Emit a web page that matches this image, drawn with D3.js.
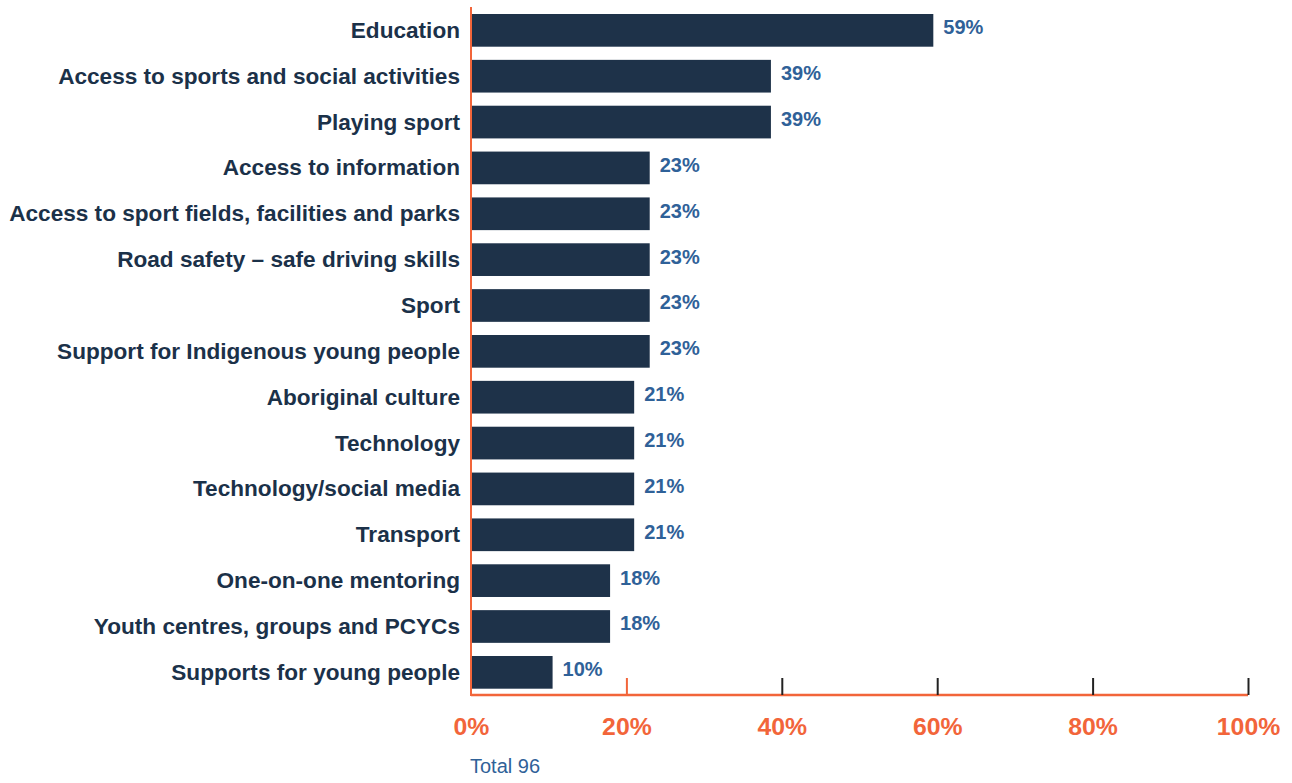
<!DOCTYPE html>
<html>
<head>
<meta charset="utf-8">
<script src="https://cdn.jsdelivr.net/npm/d3@7"></script>
<style>
  html, body { margin: 0; padding: 0; background: #ffffff; }
  svg { display: block; }
  text { font-family: "Liberation Sans", Arial, Helvetica, sans-serif; }
</style>
</head>
<body>
<svg id="chart" width="1292" height="783"></svg>
<script>
const categories = [
  "Education",
  "Access to sports and social activities",
  "Playing sport",
  "Access to information",
  "Access to sport fields, facilities and parks",
  "Road safety \u2013 safe driving skills",
  "Sport",
  "Support for Indigenous young people",
  "Aboriginal culture",
  "Technology",
  "Technology/social media",
  "Transport",
  "One-on-one mentoring",
  "Youth centres, groups and PCYCs",
  "Supports for young people"
];
const values = [59.5, 38.6, 38.6, 23, 23, 23, 23, 23, 21, 21, 21, 21, 17.9, 17.9, 10.5];
const valueLabels = ["59%", "39%", "39%", "23%", "23%", "23%", "23%", "23%", "21%", "21%", "21%", "21%", "18%", "18%", "10%"];
const tickValues = [0, 20, 40, 60, 80, 100];
const tickLabels = ["0%", "20%", "40%", "60%", "80%", "100%"];
const footnote = "Total 96";

const navy = "#1e3249";
const labelNavy = "#1b3149";
const blue = "#2f6198";
const orange = "#f2653a";

const svg = d3.select("#chart");

const x = d3.scaleLinear().domain([0, 100]).range([471, 1248]);
const y = d3.scaleBand().domain(categories).range([14, 688.7]).paddingInner(0.287).paddingOuter(0);
const axisY = 695;

// bars
svg.append("g").selectAll("rect")
  .data(categories)
  .join("rect")
  .attr("x", x(0))
  .attr("y", d => y(d))
  .attr("width", (d, i) => x(values[i]) - x(0))
  .attr("height", y.bandwidth())
  .attr("fill", navy);

// category labels
svg.append("g").selectAll("text")
  .data(categories)
  .join("text")
  .attr("x", 460)
  .attr("y", d => y(d) + y.bandwidth() / 2)
  .attr("dy", "0.33em")
  .attr("text-anchor", "end")
  .attr("font-size", 22.6)
  .attr("font-weight", "bold")
  .attr("fill", labelNavy)
  .text(d => d);

// value labels
svg.append("g").selectAll("text")
  .data(categories)
  .join("text")
  .attr("x", (d, i) => x(values[i]) + 10)
  .attr("y", d => y(d) + y.bandwidth() / 2)
  .attr("dy", "0.2em")
  .attr("font-size", 20)
  .attr("font-weight", "bold")
  .attr("fill", blue)
  .text((d, i) => valueLabels[i]);

// x axis
const xAxis = d3.axisBottom(x)
  .tickValues(tickValues)
  .tickSize(0)
  .tickFormat((d, i) => tickLabels[i]);
const gx = svg.append("g").attr("transform", `translate(0,${axisY})`).call(xAxis);
gx.select(".domain").attr("stroke", orange).attr("stroke-width", 2.5).attr("d", `M${x(0)},0H${x(100)}`);
gx.selectAll(".tick text")
  .attr("y", 40)
  .attr("dy", 0)
  .attr("font-size", 24.8)
  .attr("font-weight", "bold")
  .attr("font-family", "Liberation Sans, Arial, sans-serif")
  .attr("fill", orange);
gx.selectAll(".tick line")
  .attr("y1", 0)
  .attr("y2", d => d === 0 ? 0 : -17)
  .attr("stroke", d => d === 20 ? orange : "#222222")
  .attr("stroke-width", 2);

// y axis line
svg.append("line")
  .attr("x1", x(0)).attr("x2", x(0))
  .attr("y1", 7).attr("y2", axisY + 1)
  .attr("stroke", orange)
  .attr("stroke-width", 2);

// footnote
svg.append("text")
  .attr("x", 470)
  .attr("y", 773)
  .attr("font-size", 20)
  .attr("fill", blue)
  .text(footnote);
</script>
</body>
</html>
